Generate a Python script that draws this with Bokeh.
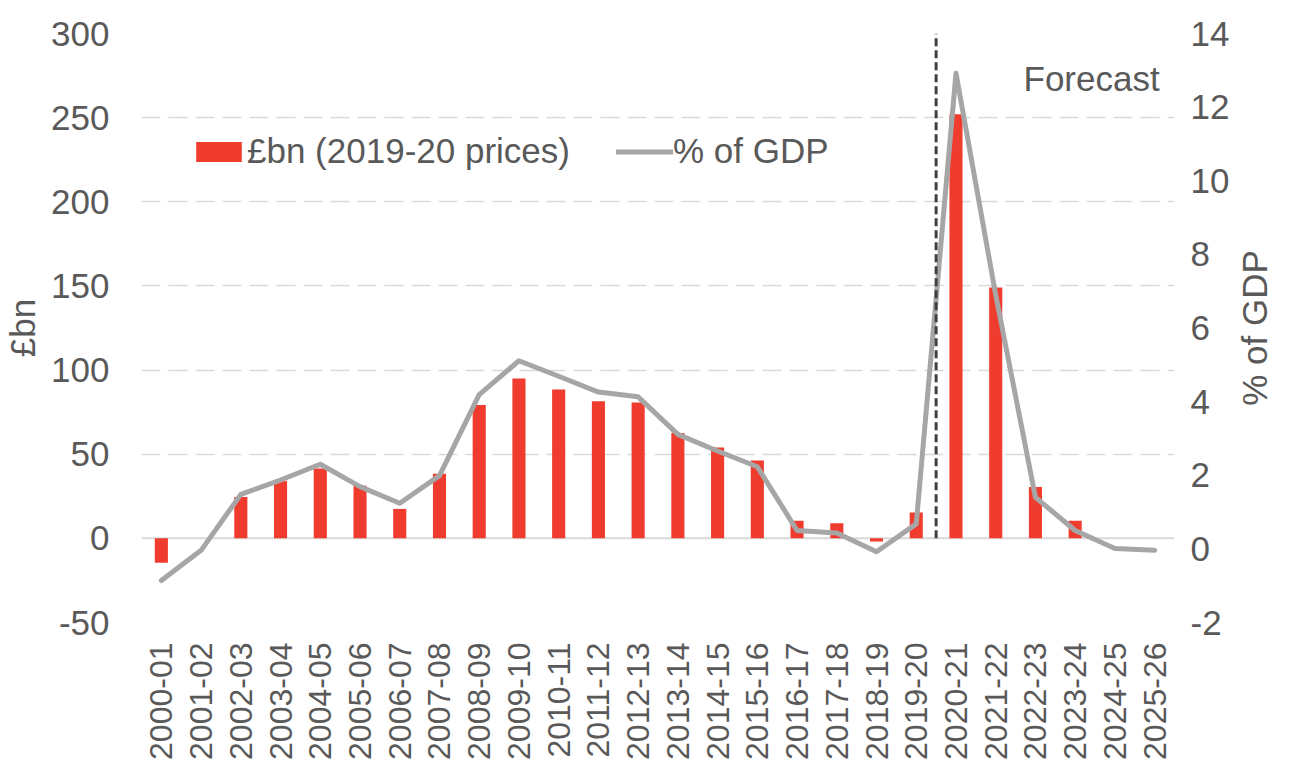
import math
from bokeh.plotting import figure
from bokeh.layouts import row
from bokeh.models import (FactorRange, Range1d, LinearAxis, FixedTicker, Legend,
                          LegendItem, Label, Span, ColumnDataSource)
from bokeh.core.properties import value
from bokeh.embed import file_html
from bokeh.resources import INLINE

years = ["2000-01", "2001-02", "2002-03", "2003-04", "2004-05", "2005-06", "2006-07",
         "2007-08", "2008-09", "2009-10", "2010-11", "2011-12", "2012-13", "2013-14",
         "2014-15", "2015-16", "2016-17", "2017-18", "2018-19", "2019-20", "2020-21",
         "2021-22", "2022-23", "2023-24", "2024-25", "2025-26"]
bn_2019_20_prices = [-14.5, 0, 24.6, 34, 41.5, 31.3, 17.5, 38.4, 79.3, 95, 88.5, 81.5, 80.7,
                     62.6, 54, 46.2, 10.4, 9, -1.8, 15.3, 252, 149, 30.5, 10.4, 0, 0]
pct_of_gdp = [-0.86, -0.04, 1.48, 1.87, 2.30, 1.69, 1.24, 1.99, 4.19, 5.11, 4.69, 4.26, 4.13,
              3.11, 2.66, 2.23, 0.50, 0.43, -0.08, 0.68, 12.92, 6.9, 1.4, 0.50, 0.01, -0.04]
left_ticks = [-50, 0, 50, 100, 150, 200, 250, 300]
right_ticks = [-2, 0, 2, 4, 6, 8, 10, 12, 14]

FONT = "Liberation Sans"
TXT = "#595959"
FS = "35px"
TOTAL_W, H = 1276, 762
SIDE_W = 44

src = ColumnDataSource(dict(year=years, bn=bn_2019_20_prices, pct=pct_of_gdp))

p = figure(x_range=FactorRange(factors=years, range_padding=0),
           y_range=Range1d(-50, 300), width=TOTAL_W - SIDE_W, height=H,
           output_backend="svg", toolbar_location=None,
           min_border_left=140, min_border_right=50, min_border_top=33,
           min_border_bottom=136)
p.extra_y_ranges = {"pct": Range1d(-2, 14)}
p.outline_line_color = None
p.background_fill_color = "white"
p.border_fill_color = "white"

p.xgrid.visible = False
p.ygrid.ticker = FixedTicker(ticks=[t for t in left_ticks if t != 0])
p.ygrid.grid_line_color = "#d9d9d9"
p.ygrid.grid_line_width = 1.5
p.ygrid.grid_line_dash = "19 8"

zero = Span(location=0, dimension="width", line_color="#d9d9d9", line_width=2, level="underlay")
p.add_layout(zero)

def style_axis(ax):
    ax.axis_line_color = None
    ax.major_tick_line_color = None
    ax.minor_tick_line_color = None
    ax.major_label_text_font = FONT
    ax.major_label_text_font_size = FS
    ax.major_label_text_color = TXT
    ax.axis_label_text_font = FONT
    ax.axis_label_text_font_size = FS
    ax.axis_label_text_color = TXT
    ax.axis_label_text_font_style = "normal"

yl = p.yaxis[0]
yl.ticker = FixedTicker(ticks=left_ticks)
style_axis(yl)
yl.major_label_standoff = 26
yl.axis_label = "£bn"
yl.axis_label_standoff = 6
yl.major_label_overrides = {-50: "-50"}

yr = LinearAxis(y_range_name="pct", ticker=FixedTicker(ticks=right_ticks))
style_axis(yr)
yr.major_label_standoff = 10
yr.major_label_overrides = {-2: "-2"}
p.add_layout(yr, "right")

xa = p.xaxis[0]
style_axis(xa)
xa.major_label_text_font_size = "32px"
xa.major_label_orientation = math.pi / 2
xa.major_label_standoff = 14

bars = p.vbar(x="year", top="bn", bottom=0, width=0.33, source=src,
              fill_color="#F03C2E", line_color=None)
line = p.line(x="year", y="pct", source=src, y_range_name="pct",
              line_color="#A6A6A6", line_width=5, line_join="round", line_cap="round")

p.segment(x0=[20], y0=[0], x1=[20], y1=[300], line_color="#404040",
          line_width=3, line_dash="8 4")

p.add_layout(Label(x=22.2, y=273, text="Forecast", text_font=FONT, text_font_size=FS,
                   text_color=TXT, text_align="left", text_baseline="middle"))

legend = Legend(items=[LegendItem(label="£bn (2019-20 prices)", renderers=[bars]),
                       LegendItem(label="% of GDP", renderers=[line])],
                orientation="horizontal", location=(49, 451),
                padding=0, margin=0, spacing=46, label_standoff=0,
                glyph_width=57, glyph_height=25,
                label_text_font=FONT, label_text_font_size=FS, label_text_color=TXT,
                background_fill_alpha=0, border_line_color=None)
p.add_layout(legend)

# narrow companion panel holding the right-hand axis title (reads bottom-to-top)
side = figure(x_range=Range1d(0, 1), y_range=p.y_range, width=SIDE_W, height=H,
              output_backend="svg", toolbar_location=None,
              x_axis_type=None, y_axis_type=None,
              min_border_left=0, min_border_right=0, min_border_top=33,
              min_border_bottom=140)
side.outline_line_color = None
side.xgrid.visible = False
side.ygrid.visible = False
side.background_fill_color = "white"
side.border_fill_color = "white"
side.text(x=[0.5], y=[125], text=["% of GDP"], angle=math.pi / 2,
          text_font=value(FONT), text_font_size=FS, text_color=TXT,
          text_align="center", text_baseline="middle")

open("out.html", "w").write(file_html(row(p, side), INLINE))
